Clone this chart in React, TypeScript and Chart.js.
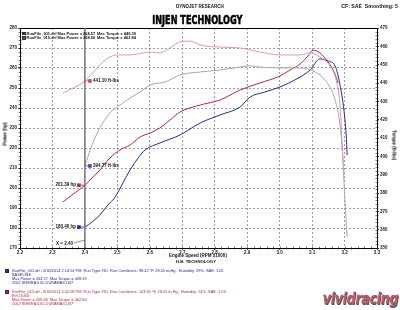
import React, { useEffect, useRef } from "react";
import { Chart, registerables } from "chart.js";
Chart.register(...registerables);

// ---- data (RPM x1000, hp, ft-lbs) ----
const rpmPowerRed = [2.332, 2.36, 2.4, 2.422, 2.446, 2.477, 2.508, 2.539, 2.57, 2.601, 2.631, 2.662, 2.693, 2.755, 2.816, 2.878, 2.939, 3.001, 3.032, 3.063, 3.087, 3.103, 3.124, 3.149, 3.168, 3.18];
const powerRed = [193.0, 196.5, 201.39, 205.0, 209.0, 215.0, 219.0, 221.5, 225.5, 227.5, 230.0, 234.0, 238.0, 241.5, 244.0, 249.0, 252.5, 256.0, 259.0, 262.0, 266.0, 268.9, 267.5, 263.0, 258.0, 252.5];

const rpmPowerBlue = [2.4, 2.422, 2.446, 2.471, 2.493, 2.517, 2.539, 2.564, 2.585, 2.631, 2.693, 2.755, 2.816, 2.878, 2.909, 2.955, 3.001, 3.063, 3.094, 3.124, 3.149, 3.171, 3.186, 3.198, 3.205, 3.208];
const powerBlue = [180.46, 183.0, 186.5, 191.5, 195.5, 202.5, 209.0, 215.0, 219.0, 222.5, 226.5, 232.5, 236.5, 240.5, 245.5, 248.0, 250.5, 255.5, 259.0, 264.57, 263.5, 261.0, 251.5, 239.0, 226.5, 216.5];

const rpmTorqueRed = [2.332, 2.4, 2.446, 2.477, 2.508, 2.539, 2.601, 2.631, 2.662, 2.693, 2.724, 2.755, 2.816, 2.878, 2.939, 3.001, 3.063, 3.094, 3.124, 3.155, 3.174, 3.186, 3.192, 3.198];
const torqueRed = [434.5, 441.1, 449.8, 454.2, 455.3, 455.3, 456.9, 456.4, 459.1, 462.4, 462.84, 460.7, 459.6, 459.1, 456.9, 455.3, 455.3, 456.4, 454.2, 449.3, 441.6, 428.0, 408.9, 389.8];

const rpmTorqueBlue = [2.4, 2.422, 2.446, 2.477, 2.508, 2.539, 2.57, 2.601, 2.647, 2.693, 2.755, 2.816, 2.878, 2.909, 2.939, 3.001, 3.063, 3.109, 3.14, 3.171, 3.186, 3.195, 3.201, 3.208];
const torqueBlue = [394.77, 406.2, 415.5, 423.6, 428.0, 431.8, 435.1, 438.9, 440.5, 444.4, 446.0, 447.1, 448.7, 449.39, 448.7, 448.2, 448.2, 446.0, 441.6, 430.7, 417.1, 398.0, 376.2, 356.0];

const xTickValues = [2.2, 2.3, 2.4, 2.5, 2.6, 2.7, 2.8, 2.9, 3.0, 3.1, 3.2, 3.3];
const xTickLabels = ["2.2", "2.3", "2.4", "2.5", "2.6", "2.7", "2.8", "2.9", "3.0", "3.1", "3.2", "3.3"];

const cursorRpm = 2.4;
const readoutValues = [201.39, 180.46, 441.1, 394.77];
const readoutLabels = ["201.39 hp", "180.46 hp", "441.10 ft-lbs", "394.77 ft-lbs"];
const readoutAxes = ["y", "y", "y1", "y1"];

const BLUE = "#2a2a8e";
const RED = "#b22a3c";
const PINK = "#d99aa7";
const GRAY = "#a6a6b6";
const readoutColors = [RED, BLUE, "#c8485c", "#4a4ab0"];

const FONT = '"Liberation Sans", Arial, sans-serif';

const pts = (xs: number[], ys: number[]) => xs.map((x, i) => ({ x, y: ys[i] }));

const overlayPlugin = {
  id: "overlay",
  afterDraw(chart: any) {
    const { ctx, chartArea: a, scales } = chart;
    const xs = scales.x, yl = scales.y, yr = scales.y1;
    ctx.save();
    ctx.strokeStyle = "#000";
    ctx.lineWidth = 1;
    ctx.strokeRect(Math.round(a.left) + 0.5, Math.round(a.top) + 0.5, Math.round(a.right - a.left), Math.round(a.bottom - a.top));
    ctx.lineWidth = 0.6;
    ctx.strokeStyle = "#222";
    ctx.beginPath();
    for (let v = 170; v <= 280; v += 2) {
      const y = Math.round(yl.getPixelForValue(v)) + 0.5;
      ctx.moveTo(a.left - 1.5, y); ctx.lineTo(a.left + 1.5, y);
    }
    for (let v = 350; v <= 470; v += 2) {
      const y = Math.round(yr.getPixelForValue(v)) + 0.5;
      ctx.moveTo(a.right - 1.5, y); ctx.lineTo(a.right + 1.5, y);
    }
    for (let i = 0; i <= 55; i++) {
      const x = Math.round(xs.getPixelForValue(2.2 + i * 0.02)) + 0.5;
      ctx.moveTo(x, a.bottom - 1.5); ctx.lineTo(x, a.bottom + 1.5);
    }
    ctx.stroke();
    const cx = xs.getPixelForValue(cursorRpm);
    ctx.strokeStyle = "#6e6e6e";
    ctx.lineWidth = 1.4;
    ctx.beginPath();
    ctx.moveTo(cx, a.top); ctx.lineTo(cx, a.bottom);
    ctx.stroke();
    ctx.font = `bold 4.5px ${FONT}`;
    ctx.fillStyle = "#111";
    ctx.textAlign = "right";
    ctx.textBaseline = "middle";
    ctx.fillText("X = 2.40", cx - 12, a.bottom - 4.5);
    ctx.strokeStyle = "#444";
    ctx.lineWidth = 0.6;
    ctx.beginPath();
    ctx.moveTo(cx - 11, a.bottom - 5); ctx.lineTo(cx, a.bottom - 8);
    ctx.stroke();
    readoutValues.forEach((v, i) => {
      const sc = readoutAxes[i] === "y" ? yl : yr;
      const py = sc.getPixelForValue(v);
      const left = readoutAxes[i] === "y";
      const mx = left ? cx - 6 : cx + 5;
      ctx.strokeStyle = readoutColors[i];
      ctx.lineWidth = 0.8;
      ctx.beginPath();
      ctx.moveTo(cx, py); ctx.lineTo(mx, py);
      ctx.stroke();
      ctx.fillStyle = readoutColors[i];
      ctx.fillRect(mx - 1.8, py - 1.8, 3.6, 3.6);
      ctx.fillStyle = "#111";
      ctx.font = `bold 4.5px ${FONT}`;
      ctx.textAlign = left ? "right" : "left";
      ctx.fillText(readoutLabels[i], left ? mx - 3 : mx + 3, py);
    });
    ctx.restore();
  },
};

type TP = { x: number; y: number; size: number; bold?: boolean; color?: string; align?: "left" | "center" | "right"; children: any; family?: string };
const T = ({ x, y, size, bold, color, align = "left", children, family }: TP) => {
  const style: any = {
    position: "absolute",
    top: y - size / 2,
    fontSize: size,
    lineHeight: `${size}px`,
    fontWeight: bold ? "bold" : "normal",
    color: color || "#111",
    whiteSpace: "nowrap",
    fontFamily: family || FONT,
  };
  if (align === "left") style.left = x;
  else if (align === "right") { style.right = 400 - x; style.textAlign = "right"; }
  else { style.left = x - 200; style.width = 400; style.textAlign = "center"; }
  return <div style={style}>{children}</div>;
};

const Sq = ({ x, y, c }: { x: number; y: number; c: string }) => (
  <div style={{ position: "absolute", left: x, top: y, width: 3.5, height: 3.5, background: c, border: "0.4px solid #333", boxSizing: "border-box" }} />
);

export default function App() {
  const ref = useRef<HTMLCanvasElement>(null);
  useEffect(() => {
    const gridCommon = { color: "#777", lineWidth: 0.7, tickLength: 2, tickColor: "#222", tickWidth: 0.8 };
    const tickFont = { size: 4.5, weight: "bold" as const, family: FONT };
    const chart = new Chart(ref.current!, {
      type: "line",
      data: {
        datasets: [
          { data: pts(rpmTorqueRed, torqueRed), yAxisID: "y1", borderColor: PINK, borderWidth: 1 },
          { data: pts(rpmTorqueBlue, torqueBlue), yAxisID: "y1", borderColor: GRAY, borderWidth: 1 },
          { data: pts(rpmPowerRed, powerRed), yAxisID: "y", borderColor: RED, borderWidth: 1 },
          { data: pts(rpmPowerBlue, powerBlue), yAxisID: "y", borderColor: BLUE, borderWidth: 1 },
        ],
      },
      options: {
        responsive: false,
        animation: false,
        devicePixelRatio: 1,
        layout: { padding: { top: 28, left: 0, right: 0, bottom: 0 } },
        plugins: { legend: { display: false }, tooltip: { enabled: false } },
        elements: { point: { radius: 0 }, line: { tension: 0.4, cubicInterpolationMode: "monotone" } },
        scales: {
          x: {
            type: "linear",
            min: 2.2,
            max: 3.3,
            afterBuildTicks: (s: any) => { s.ticks = xTickValues.map((v) => ({ value: v })); },
            afterFit: (s: any) => { s.height = 62; },
            ticks: { callback: (_v: any, i: number) => xTickLabels[i], font: tickFont, color: "#222", padding: 0, maxRotation: 0, autoSkip: false },
            grid: gridCommon,
            border: { display: true, color: "#000", width: 1, dash: [2, 2] },
          },
          y: {
            position: "left",
            min: 170,
            max: 280,
            afterFit: (s: any) => { s.width = 20; },
            ticks: { stepSize: 10, font: tickFont, color: "#222", padding: 1 },
            grid: gridCommon,
            border: { display: true, color: "#000", width: 1, dash: [2, 2] },
          },
          y1: {
            position: "right",
            min: 350,
            max: 470,
            afterFit: (s: any) => { s.width = 23; },
            ticks: { stepSize: 10, font: tickFont, color: "#222", padding: 1 },
            grid: { ...gridCommon, drawOnChartArea: false },
            border: { display: true, color: "#000", width: 1 },
          },
        },
      },
      plugins: [overlayPlugin],
    } as any);
    return () => chart.destroy();
  }, []);

  return (
    <div style={{ position: "fixed", left: 0, top: 0, width: 400, height: 310, background: "#fff", overflow: "hidden" }}>
      <canvas ref={ref} width={400} height={310} style={{ position: "absolute", left: 0, top: 0, width: 400, height: 310 }} />
      <T x={200} y={7} size={4.5} bold align="center">DYNOJET RESEARCH</T>
      <T x={398} y={7} size={5.2} bold align="right">CF: SAE&nbsp;&nbsp;Smoothing: 5</T>
      <div style={{ position: "absolute", left: 0, top: 13, width: 400, textAlign: "center", lineHeight: "12px" }}>
        <span style={{ display: "inline-block", transform: "scaleX(0.68)", fontFamily: '"DejaVu Sans", sans-serif', fontWeight: 900, fontSize: 12, color: "#000", whiteSpace: "nowrap", marginLeft: -6, WebkitTextStroke: "0.6px #000" }}>INJEN TECHNOLOGY</span>
      </div>

      <Sq x={22} y={31.5} c={BLUE} />
      <T x={26.5} y={33.5} size={4} bold>RunFile_001.drf Max Power = 264.57</T>
      <T x={97} y={33.5} size={4} bold>Max Torque = 449.39</T>
      <Sq x={22} y={36} c={RED} />
      <T x={26.5} y={38} size={4} bold>RunFile_015.drf Max Power = 268.90</T>
      <T x={97} y={38} size={4} bold>Max Torque = 462.84</T>

      <div style={{ position: "absolute", left: 5, top: 134, transform: "translate(-50%,-50%) rotate(-90deg)", fontSize: 4.5, fontWeight: "bold", fontFamily: FONT, whiteSpace: "nowrap", lineHeight: "5px" }}>Power (hp)</div>
      <div style={{ position: "absolute", left: 394, top: 145, transform: "translate(-50%,-50%) rotate(90deg)", fontSize: 4.5, fontWeight: "bold", fontFamily: FONT, whiteSpace: "nowrap", lineHeight: "5px" }}>Torque (ft-lbs)</div>
      <T x={198} y={256.5} size={4.5} bold align="center">Engine Speed (RPM x1000)</T>
      <T x={196} y={262.5} size={4.3} bold align="center">H.B. TECHNOLOGY</T>

      <Sq x={5} y={269} c={BLUE} />
      <T x={12} y={271} size={3.9} color={BLUE}>RunFile_001.drf - 6/30/2014 2:14:54 PM&nbsp;&nbsp;Run Type: RD&nbsp;&nbsp;Run Conditions: 98.42 °F, 28.05 in-Hg,&nbsp;&nbsp;Humidity: 29%, SAE: 1.05</T>
      <T x={12} y={275} size={3.9} color={BLUE}>BASELINE</T>
      <T x={12} y={279} size={3.9} color={BLUE}>Max Power = 264.57&nbsp;&nbsp;Max Torque = 449.39</T>
      <T x={12} y={283} size={3.9} color={BLUE}>2002 SIERRA 6.6L DURAMAX LB7</T>
      <Sq x={5} y={290} c={RED} />
      <T x={12} y={292} size={3.9} color={RED}>RunFile_015.drf - 6/30/2014 4:42:28 PM&nbsp;&nbsp;Run Type: RD&nbsp;&nbsp;Run Conditions: 103.90 °F, 28.01 in-Hg,&nbsp;&nbsp;Humidity: 24%, SAE: 1.09</T>
      <T x={12} y={296} size={3.9} color={RED}>EVO1066</T>
      <T x={12} y={300} size={3.9} color={RED}>Max Power = 268.90&nbsp;&nbsp;Max Torque = 462.84</T>
      <T x={12} y={304} size={3.9} color={RED}>2002 SIERRA 6.6L DURAMAX LB7</T>

      <div style={{ position: "absolute", right: 2, top: 290, lineHeight: "17px", textAlign: "right" }}>
        <span style={{ display: "inline-block", transform: "scaleX(0.8)", transformOrigin: "right center", fontFamily: '"DejaVu Sans", sans-serif', fontWeight: "bold", fontStyle: "italic", fontSize: 16, color: "#c85a68", textShadow: "0.8px 0.8px 0 #555", whiteSpace: "nowrap", letterSpacing: -0.5, WebkitTextStroke: "0.3px #555" }}>vividracing</span>
      </div>
    </div>
  );
}
